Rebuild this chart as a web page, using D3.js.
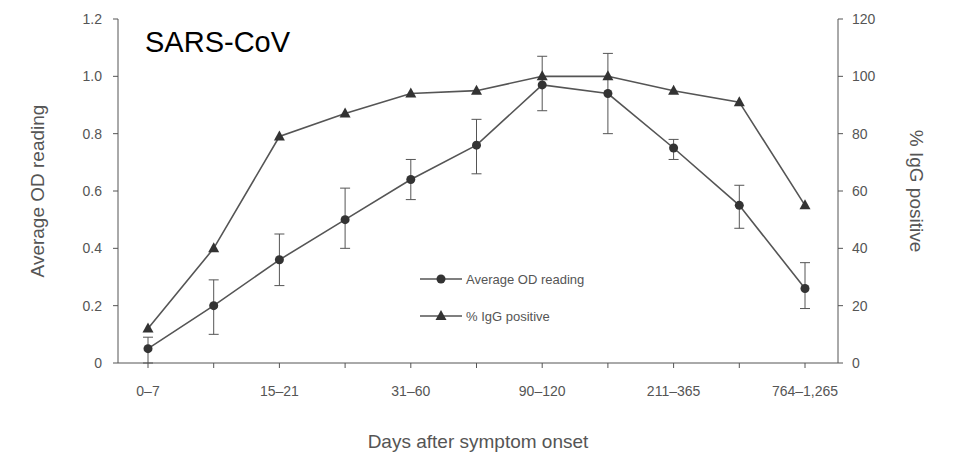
<!DOCTYPE html><html><head><meta charset="utf-8"><script src="https://cdn.jsdelivr.net/npm/d3@7"></script>
<style>body{margin:0;background:#fff}svg{font-family:"Liberation Sans",Arial,sans-serif}</style></head><body><svg id="c" width="955" height="463"></svg>
<script>
const categories=["0–7","8–14","15–21","22–30","31–60","61–90","90–120","121–210","211–365","366–763","764–1,265"];
const tickLabels=["0–7","","15–21","","31–60","","90–120","","211–365","","764–1,265"];
const odValues=[0.05,0.2,0.36,0.50,0.64,0.76,0.97,0.94,0.75,0.55,0.26];
const odLow=[0.0,0.12,0.3,0.48,0.68,0.80,1.06,0.96,0.86,0.57,0.22];
const odHigh=[0.0,0.12,0.3,0.48,0.68,0.80,1.06,0.96,0.86,0.57,0.22];
const errLow=[0.0,0.10,0.27,0.40,0.57,0.66,0.88,0.80,0.71,0.47,0.19];
const errHigh=[0.09,0.29,0.45,0.61,0.71,0.85,1.07,1.08,0.78,0.62,0.35];
const iggValues=[12,40,79,87,94,95,100,100,95,91,55];
const leftTicks=[0,0.2,0.4,0.6,0.8,1.0,1.2];
const rightTicks=[0,20,40,60,80,100,120];
const svg=d3.select("#c");const col="#555";
const x=d3.scalePoint().domain(categories).range([148,805]);
const y=d3.scaleLinear().domain([0,1.2]).range([363,19]);
const y2=d3.scaleLinear().domain([0,120]).range([363,19]);
const g=svg.append("g");
g.append("line").attr("x1",118).attr("x2",838).attr("y1",363).attr("y2",363).attr("stroke",col);
g.append("line").attr("x1",118).attr("x2",118).attr("y1",19).attr("y2",363).attr("stroke",col);
g.append("line").attr("x1",838).attr("x2",838).attr("y1",19).attr("y2",363).attr("stroke",col);
leftTicks.forEach(t=>{g.append("line").attr("x1",113).attr("x2",118).attr("y1",y(t)).attr("y2",y(t)).attr("stroke",col);
g.append("text").attr("x",102).attr("y",y(t)+5).attr("text-anchor","end").attr("font-size",14).attr("fill",col).text(t===0?"0":t.toFixed(1));});
rightTicks.forEach(t=>{g.append("line").attr("x1",838).attr("x2",843).attr("y1",y2(t)).attr("y2",y2(t)).attr("stroke",col);
g.append("text").attr("x",852).attr("y",y2(t)+5).attr("text-anchor","start").attr("font-size",14).attr("fill",col).text(t);});
categories.forEach((c,i)=>{g.append("line").attr("x1",x(c)).attr("x2",x(c)).attr("y1",363).attr("y2",368).attr("stroke",col);
g.append("text").attr("x",x(c)).attr("y",396).attr("text-anchor","middle").attr("font-size",14).attr("fill",col).text(tickLabels[i]);});
g.append("text").attr("x",478).attr("y",448).attr("text-anchor","middle").attr("font-size",19).attr("fill",col).text("Days after symptom onset");
g.append("text").attr("transform","translate(44,191) rotate(-90)").attr("text-anchor","middle").attr("font-size",19).attr("fill",col).text("Average OD reading");
g.append("text").attr("transform","translate(910,191) rotate(90)").attr("text-anchor","middle").attr("font-size",19).attr("fill",col).text("% IgG positive");
g.append("text").attr("x",145).attr("y",52).attr("font-size",29).attr("fill","#000").text("SARS-CoV");
const line=d3.line();
g.append("path").attr("d",line(categories.map((c,i)=>[x(c),y2(iggValues[i])]))).attr("fill","none").attr("stroke",col).attr("stroke-width",1.6);
g.append("path").attr("d",line(categories.map((c,i)=>[x(c),y(odValues[i])]))).attr("fill","none").attr("stroke",col).attr("stroke-width",1.6);
categories.forEach((c,i)=>{const cx=x(c);
g.append("line").attr("x1",cx).attr("x2",cx).attr("y1",y(errLow[i])).attr("y2",y(errHigh[i])).attr("stroke",col);
[errLow[i],errHigh[i]].forEach(v=>g.append("line").attr("x1",cx-5).attr("x2",cx+5).attr("y1",y(v)).attr("y2",y(v)).attr("stroke",col));
g.append("circle").attr("cx",cx).attr("cy",y(odValues[i])).attr("r",4.5).attr("fill","#333");
const ty=y2(iggValues[i]);
g.append("path").attr("d",`M${cx},${ty-6}L${cx+5.5},${ty+4}L${cx-5.5},${ty+4}Z`).attr("fill","#333");});
// legend
g.append("line").attr("x1",420).attr("x2",462).attr("y1",279).attr("y2",279).attr("stroke",col).attr("stroke-width",1.6);
g.append("circle").attr("cx",441).attr("cy",279).attr("r",4.5).attr("fill","#333");
g.append("text").attr("x",466).attr("y",284).attr("font-size",13).attr("fill",col).text("Average OD reading");
g.append("line").attr("x1",420).attr("x2",462).attr("y1",316).attr("y2",316).attr("stroke",col).attr("stroke-width",1.6);
g.append("path").attr("d","M441,310L446.5,320L435.5,320Z").attr("fill","#333");
g.append("text").attr("x",466).attr("y",321).attr("font-size",13).attr("fill",col).text("% IgG positive");
</script></body></html>
